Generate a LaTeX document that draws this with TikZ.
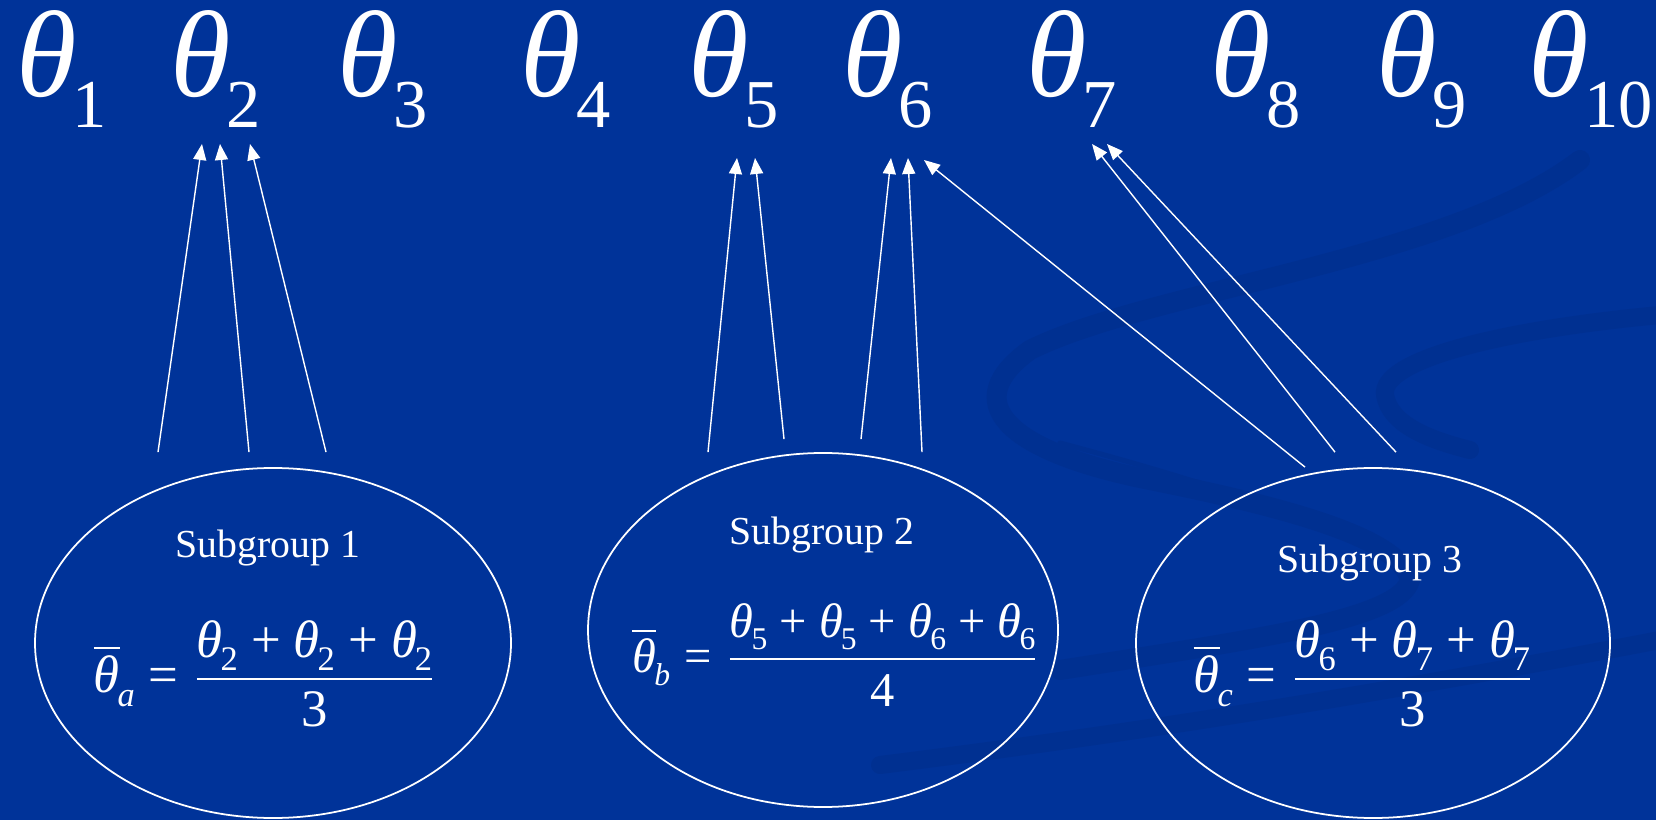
\documentclass[tikz,border=0pt]{standalone}
\usepackage{amsmath}
\usepackage{fontspec}
\setmainfont{Liberation Serif}
\usetikzlibrary{arrows.meta,shapes.geometric,calc}
\definecolor{cSlide}{HTML}{003399}
\definecolor{cSwirl}{HTML}{003091}
% theta with a lowered index (index size given)
\newcommand{\thsub}[2]{{\itshape θ}\kern-0.04em\raisebox{-0.25em}{\fontsize{#1}{#1}\selectfont #2}}
\newcommand{\thbar}[2]{$\overline{\text{\itshape θ}}$\kern-0.04em\raisebox{-0.28em}{\fontsize{#1}{#1}\selectfont\itshape #2}}
\newcommand{\grpmean}[4]{$\displaystyle\text{\thbar{#1}{#2}}\mathrel{\text{=}}\frac{\text{#3}}{\text{#4}}$}

\begin{document}
\begin{tikzpicture}[
  x=0.1mm, y=-0.1mm,
  thlabel/.style={font=\fontsize{35}{40}\selectfont, text=white, inner sep=0pt, anchor=base west},
  grp/.style={ellipse, draw=white, line width=0.5pt, inner sep=0pt},
  grptitle/.style={font=\fontsize{11.3}{13}\selectfont, text=white, inner sep=0pt, anchor=base},
  meanlabel/.style={font=\fontsize{#1}{17}\selectfont, text=white, inner sep=0pt, anchor=base},
  arr/.style={white, line width=0.4pt, -{Triangle[length=1.6mm,width=1.3mm]}},
  swirl/.style={cSwirl, line cap=round},
]
\fill[cSlide] (0,0) rectangle (1656,820);
\useasboundingbox (0,0) rectangle (1656,820);

% background swirls
\draw[swirl, line width=2mm] (1580,160) .. controls (1450,260) and (1150,290) .. (1030,350)
  .. controls (960,400) and (1000,450) .. (1150,480)
  .. controls (1300,510) and (1400,540) .. (1410,580)
  .. controls (1400,620) and (1250,640) .. (1060,670);
\draw[swirl, line width=1.8mm] (1660,315) .. controls (1500,330) and (1380,360) .. (1385,395)
  .. controls (1390,425) and (1430,440) .. (1470,450);
\draw[swirl, line width=0.5mm] (1060,443) .. controls (1200,480) and (1320,520) .. (1400,560);
\draw[swirl, line width=1.8mm] (880,765) .. controls (1200,725) and (1450,680) .. (1660,640);

% parameters
\node[thlabel] (th1) at (16,97) {\thsub{19.5}{1}};
\node[thlabel] (th2) at (170,97) {\thsub{19.5}{2}};
\node[thlabel] (th3) at (337,97) {\thsub{19.5}{3}};
\node[thlabel] (th4) at (520,97) {\thsub{19.5}{4}};
\node[thlabel] (th5) at (688,97) {\thsub{19.5}{5}};
\node[thlabel] (th6) at (842,97) {\thsub{19.5}{6}};
\node[thlabel] (th7) at (1026,97) {\thsub{19.5}{7}};
\node[thlabel] (th8) at (1210,97) {\thsub{19.5}{8}};
\node[thlabel] (th9) at (1376,97) {\thsub{19.5}{9}};
\node[thlabel] (th10) at (1528,97) {\thsub{19.5}{10}};

% subgroups
\node[grp, minimum width=47.6mm, minimum height=35mm] (sg1) at (273,643) {};
\node[grp, minimum width=47mm, minimum height=35.4mm] (sg2) at (823,630) {};
\node[grp, minimum width=47.4mm, minimum height=35mm] (sg3) at (1373,643) {};

\node[grptitle] (name1) at (268,558) {Subgroup 1};
\node[grptitle] (name2) at (822,545) {Subgroup 2};
\node[grptitle] (name3) at (1370,572) {Subgroup 3};

\node[meanlabel=15] (mean1) at (265,692)
  {\grpmean{9.8}{a}{\thsub{9.8}{2} + \thsub{9.8}{2} + \thsub{9.8}{2}}{3}};
\node[meanlabel=13.8] (mean2) at (836,672)
  {\grpmean{9}{b}{\thsub{9}{5} + \thsub{9}{5} + \thsub{9}{6} + \thsub{9}{6}}{4}};
\node[meanlabel=15] (mean3) at (1364,692)
  {\grpmean{9.8}{c}{\thsub{9.8}{6} + \thsub{9.8}{7} + \thsub{9.8}{7}}{3}};

% members point at their parameters
\draw[arr] ($(sg1.north)+(-115,-15)$) -- ($(th2.base west)+(32,47)$);
\draw[arr] ($(sg1.north)+(-24,-15)$) -- ($(th2.base west)+(50,47)$);
\draw[arr] ($(sg1.north)+(53,-15)$) -- ($(th2.base west)+(80,47)$);

\draw[arr] ($(sg2.north)+(-115,0)$) -- ($(th5.base west)+(49,61)$);
\draw[arr] ($(sg2.north)+(-39,-13)$) -- ($(th5.base west)+(67,61)$);
\draw[arr] ($(sg2.north)+(38,-13)$) -- ($(th6.base west)+(49,61)$);
\draw[arr] ($(sg2.north)+(99,0)$) -- ($(th6.base west)+(66,61)$);

\draw[arr] ($(sg3.north)+(-68,0)$) -- ($(th6.base west)+(82,63)$);
\draw[arr] ($(sg3.north)+(-38,-15)$) -- ($(th7.base west)+(66,47)$);
\draw[arr] ($(sg3.north)+(23,-15)$) -- ($(th7.base west)+(81,47)$);

\end{tikzpicture}
\end{document}
